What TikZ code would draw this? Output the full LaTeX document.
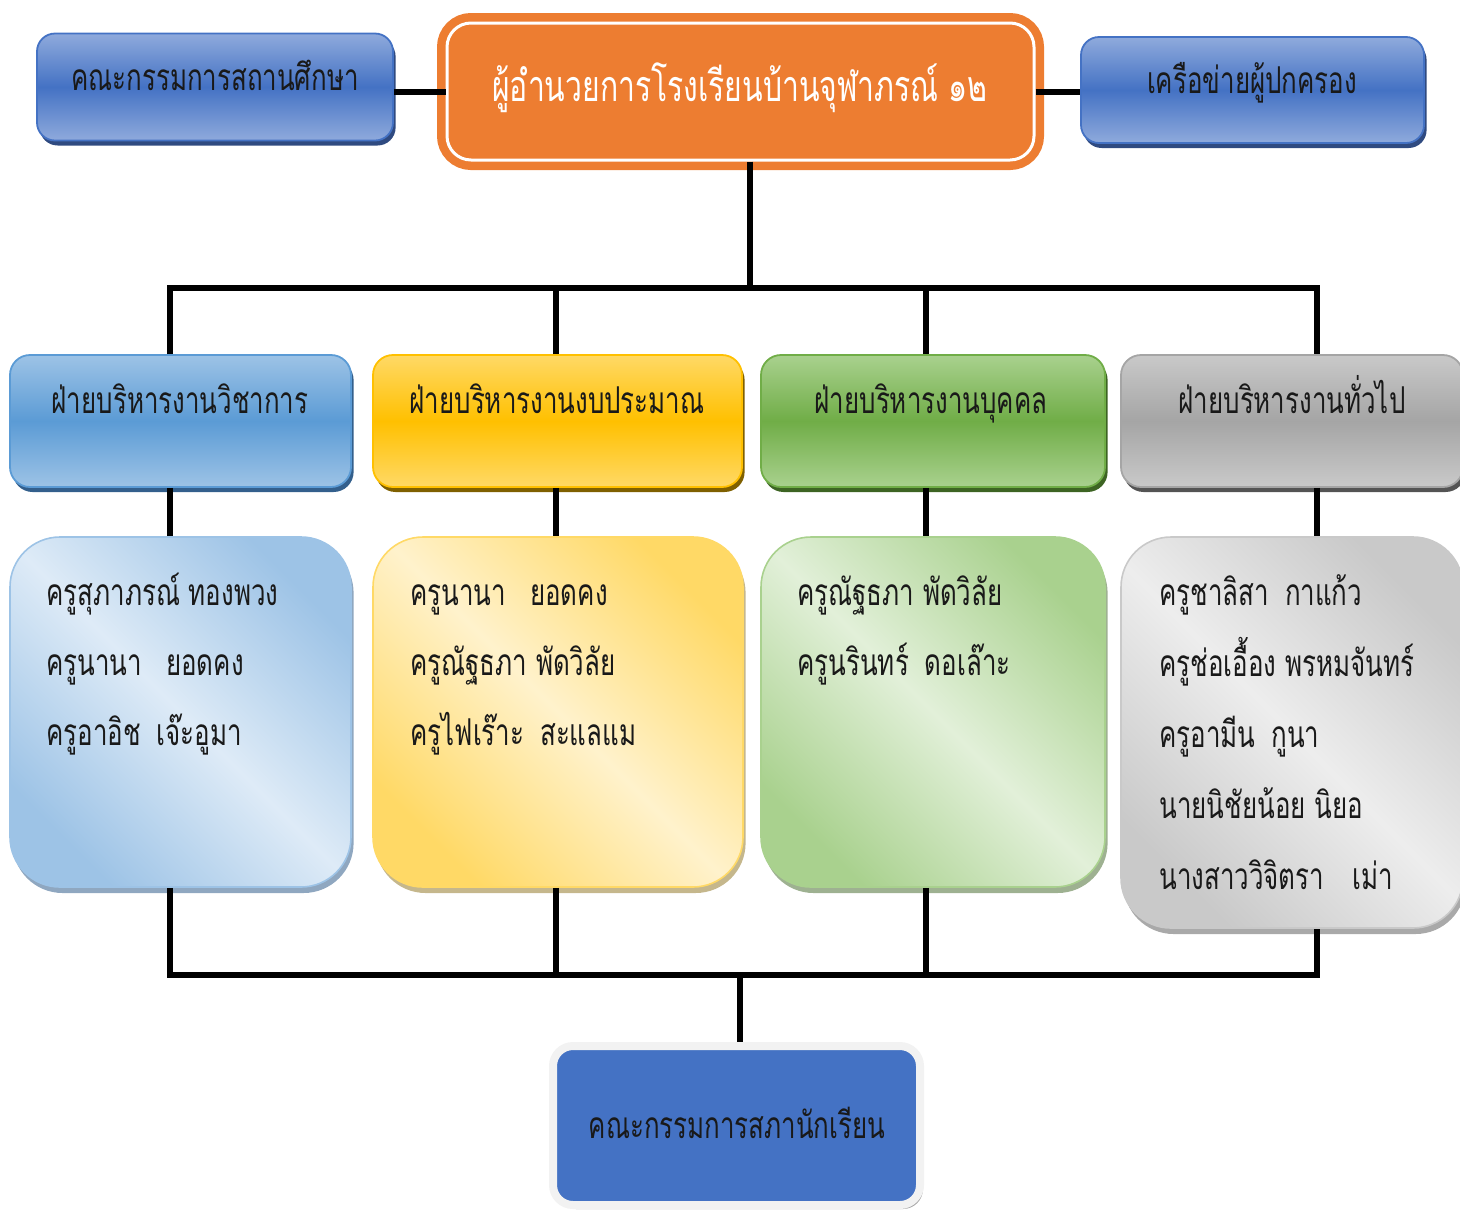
\documentclass[tikz,border=0pt]{standalone}
\usepackage{fontspec}
\newfontfamily\thaifont[Script=Thai, FakeStretch=0.7]{Loma}
\usepackage{tikz}
\usetikzlibrary{shadows}
\usetikzlibrary{calc}

\definecolor{boardmid}{HTML}{4472C4}
\definecolor{boardtop}{HTML}{8FAADC}
\definecolor{boardsh}{HTML}{2F4A80}
\definecolor{dirorange}{HTML}{ED7D31}
\definecolor{acadmid}{HTML}{5B9BD5}
\definecolor{acadtop}{HTML}{9DC3E6}
\definecolor{acadsh}{HTML}{335F8C}
\definecolor{acadlt}{HTML}{DEEBF7}
\definecolor{budgmid}{HTML}{FFC000}
\definecolor{budgtop}{HTML}{FFD966}
\definecolor{budgsh}{HTML}{7F6000}
\definecolor{budglt}{HTML}{FFF2CC}
\definecolor{persmid}{HTML}{70AD47}
\definecolor{perstop}{HTML}{A9D18E}
\definecolor{perssh}{HTML}{3D6423}
\definecolor{perslt}{HTML}{E2F0D9}
\definecolor{genmid}{HTML}{A5A5A5}
\definecolor{gentop}{HTML}{C9C9C9}
\definecolor{gensh}{HTML}{545454}
\definecolor{genlt}{HTML}{EDEDED}

\tikzset{node style top/.style n args={3}{rounded corners=9pt, draw=#2, line width=0.9pt,
    top color=#1, bottom color=#1, middle color=#2,
    drop shadow={shadow xshift=1.3pt, shadow yshift=-2.5pt, fill=#3, opacity=1}, inner sep=0pt}}
\tikzset{node style staff/.style n args={3}{rounded corners=25pt, draw=#2, line width=0.8pt,
    top color=#2, bottom color=#2, middle color=#1, shading angle=-45,
    drop shadow={shadow xshift=1.3pt, shadow yshift=-3pt, fill=#3, opacity=1}, inner sep=0pt}}
\tikzset{node style txt/.style={font=\thaifont\fontsize{18.5}{22}\selectfont, text=black!90, inner sep=0pt}}
\tikzset{wire/.style={line width=2.6pt, black}}

\begin{document}
\begin{tikzpicture}[x=0.5pt, y=-0.5pt]
   % [[[
   \useasboundingbox (0,0) rectangle (1460,1211);

   % top row
   \node[node style top={boardtop}{boardmid}{boardsh}, minimum width=178pt, minimum height=53.5pt] (board) at (215,87) {};
   \node[node style txt, anchor=base] (board-t) at (215,90) {คณะกรรมการสถานศึกษา};
   \node[rounded corners=12pt, fill=dirorange, draw=white, line width=1.5pt,
         preaction={draw=dirorange, line width=10pt},
         minimum width=293.5pt, minimum height=68.5pt, inner sep=0pt] (dir) at (740.5,91.5) {};
   \node[node style txt, text=white, font=\thaifont\fontsize{21.5}{24}\selectfont, anchor=base] (dir-t) at (740,101) {ผู้อำนวยการโรงเรียนบ้านจุฬาภรณ์ ๑๒};
   \node[node style top={boardtop}{boardmid}{boardsh}, minimum width=171.5pt, minimum height=53pt] (net) at (1252.5,90) {};
   \node[node style txt, anchor=base] (net-t) at (1252,93) {เครือข่ายผู้ปกครอง};

   % departments
   \node[node style top={acadtop}{acadmid}{acadsh}, rounded corners=10pt, minimum width=170.5pt, minimum height=66pt] (acad) at (180.5,421) {};
   \node[node style top={budgtop}{budgmid}{budgsh}, rounded corners=10pt, minimum width=184.5pt, minimum height=66pt] (budg) at (557.5,421) {};
   \node[node style top={perstop}{persmid}{perssh}, rounded corners=10pt, minimum width=172pt, minimum height=66pt] (pers) at (933,421) {};
   \node[node style top={gentop}{genmid}{gensh}, rounded corners=10pt, minimum width=171pt, minimum height=66pt] (gen) at (1292,421) {};
   \node[node style txt, anchor=base] (acad-t) at (180,413) {ฝ่ายบริหารงานวิชาการ};
   \node[node style txt, anchor=base] (budg-t) at (557,413) {ฝ่ายบริหารงานงบประมาณ};
   \node[node style txt, anchor=base] (pers-t) at (931,413) {ฝ่ายบริหารงานบุคคล};
   \node[node style txt, anchor=base] (gen-t) at (1292,413) {ฝ่ายบริหารงานทั่วไป};

   % staff boxes
   \node[node style staff={acadlt}{acadtop}{acadsh!55}, minimum width=170.5pt, minimum height=175pt] (acads) at (180.5,712) {};
   \node[node style staff={budglt}{budgtop}{budgsh!45}, minimum width=185pt, minimum height=175pt] (budgs) at (558,712) {};
   \node[node style staff={perslt}{perstop}{perssh!50}, minimum width=172pt, minimum height=175pt] (perss) at (933,712) {};
   \node[node style staff={genlt}{gentop}{gensh!50}, minimum width=171pt, minimum height=195.5pt] (gens) at (1292,732.5) {};

   \foreach \nm [count=\i from 0] in {ครูสุภาภรณ์ ทองพวง, ครูนานา\hspace{12pt}ยอดคง, ครูอาอิช\hspace{8pt}เจ๊ะอูมา}
      \node[node style txt, anchor=base west] (acadn\i) at (46,{605+70*\i}) {\nm};
   \foreach \nm [count=\i from 0] in {ครูนานา\hspace{12pt}ยอดคง, ครูณัฐธภา พัดวิลัย, ครูไฟเร๊าะ\hspace{8pt}สะแลแม}
      \node[node style txt, anchor=base west] (budgn\i) at (410,{605+70*\i}) {\nm};
   \foreach \nm [count=\i from 0] in {ครูณัฐธภา พัดวิลัย, ครูนรินทร์\hspace{8pt}ดอเล๊าะ}
      \node[node style txt, anchor=base west] (persn\i) at (797,{605+70*\i}) {\nm};
   \foreach \nm [count=\i from 0] in {ครูชาลิสา\hspace{8pt}กาแก้ว, ครูช่อเอื้อง พรหมจันทร์, ครูอามีน\hspace{8pt}กูนา, นายนิชัยน้อย นิยอ, นางสาววิจิตรา\hspace{14pt}เม่า}
      \node[node style txt, anchor=base west] (genn\i) at (1159,{605+71*\i}) {\nm};

   % student council
   \node[rounded corners=10pt, fill=boardmid, draw=white!95!black, line width=4pt,
         drop shadow={shadow xshift=1.5pt, shadow yshift=-2pt, fill=black!35, opacity=1},
         minimum width=183.5pt, minimum height=79.5pt, inner sep=0pt] (stud) at (736.5,1125.5) {};
   \node[node style txt, anchor=base] (stud-t) at (737,1138) {คณะกรรมการสภานักเรียน};

   % connectors
   \coordinate (row1) at (0,92);
   \coordinate (busT) at (750,288);
   \coordinate (busB) at (740,975);
   \coordinate (c1) at (170,0);
   \coordinate (c2) at (556,0);
   \coordinate (c3) at (926,0);
   \coordinate (c4) at (1317,0);
   \draw[wire] (board.east |- row1) -- (dir.west |- row1);
   \draw[wire] (dir.east |- row1) -- (net.west |- row1);
   \draw[wire] (dir.south -| busT) -- (busT);
   \draw[wire] (c1 |- acad.north) -- (c1 |- busT) -- (c4 |- busT) -- (c4 |- gen.north);
   \draw[wire] (c2 |- budg.north) -- (c2 |- busT);
   \draw[wire] (c3 |- pers.north) -- (c3 |- busT);
   \draw[wire] (c1 |- acad.south) -- (c1 |- acads.north);
   \draw[wire] (c2 |- budg.south) -- (c2 |- budgs.north);
   \draw[wire] (c3 |- pers.south) -- (c3 |- perss.north);
   \draw[wire] (c4 |- gen.south) -- (c4 |- gens.north);
   \draw[wire] (c1 |- acads.south) -- (c1 |- busB) -- (c4 |- busB) -- (c4 |- gens.south);
   \draw[wire] (c2 |- budgs.south) -- (c2 |- busB);
   \draw[wire] (c3 |- perss.south) -- (c3 |- busB);
   \draw[wire] (busB) -- (stud.north -| busB);
   % ]]]
\end{tikzpicture}
\end{document}
